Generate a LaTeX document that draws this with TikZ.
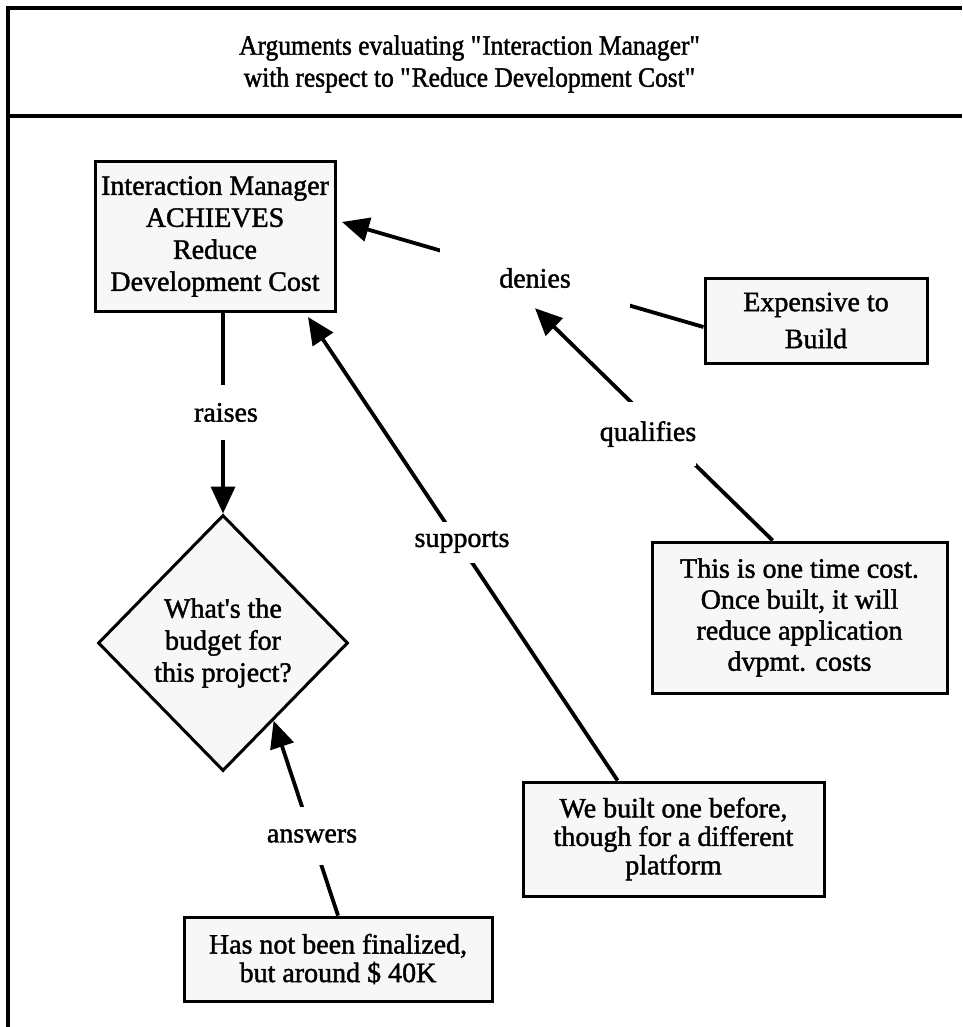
\documentclass[tikz,border=0pt]{standalone}
\usepackage{fontspec}
\setmainfont{Liberation Serif}[FakeBold=1.5]
\newfontfamily\titlefont{Liberation Serif}[FakeBold=1.5,FakeStretch=0.91]
\usetikzlibrary{arrows.meta,shapes.geometric,calc}
\begin{document}
\begin{tikzpicture}[x=1pt,y=-1pt,
  every node/.style={font=\fontsize{28}{32}\selectfont},
  box/.style={draw, line width=3pt, fill=black!3, align=center, inner sep=0pt},
  rel/.style={fill=white, inner sep=0pt},
  conn/.style={line width=3.8pt},
  arr/.style={conn, -{Triangle[length=27pt,width=24pt]}},
  frame/.style={line width=4pt}]
\useasboundingbox (0,0) rectangle (962,1027);
% frame
\draw[frame] (8,1027) -- (8,8) -- (962,8);
\draw[frame] (8,116) -- (962,116);
\node[align=center, font=\titlefont\fontsize{28}{32}\selectfont] (title) at (470,64) {Arguments evaluating \textquotedbl Interaction Manager\textquotedbl\\with respect to \textquotedbl Reduce Development Cost\textquotedbl};
% boxes
\node[box, minimum width=240pt, minimum height=149pt] (im) at (215,236.5) {Interaction Manager\\ACHIEVES\\Reduce\\Development Cost};
\node[draw, diamond, line width=3pt, fill=black!3, minimum width=250pt, minimum height=256pt, inner sep=0pt, align=center] (dia) at (223,643) {What\textquotesingle s the\\budget for\\this project?};
\node[box, minimum width=222pt, minimum height=85pt, font=\fontsize{28}{37}\selectfont] (exp) at (816,320.5) {Expensive to\\Build};
\node[box, minimum width=295pt, minimum height=151pt, font=\fontsize{28}{31}\selectfont] (qual) at (799.5,617.5) {This is one time cost.\\Once built, it will\\reduce application\\dvpmt. costs};
\node[box, minimum width=301pt, minimum height=114pt, font=\fontsize{28}{28.5}\selectfont] (sup) at (673.5,839) {We built one before,\\though for a different\\platform};
\node[box, minimum width=308pt, minimum height=84pt, font=\fontsize{28}{28.5}\selectfont] (ans) at (338,959) {Has not been finalized,\\but around \$ 40K};
% raises
\draw[arr] (im.south -| dia.north) -- (dia.north);
\node[rel, minimum height=55pt] (raises) at (226,412.5) {raises};
% denies
\coordinate (denS) at ($(exp.west)+(0,6.5)$);
\coordinate (denT) at ($(im.east)+(5.5,-14.5)$);
\draw[arr] (denS) -- (denT);
\node[rel, minimum width=190pt, minimum height=60pt] (denies) at (535,278) {denies};
% qualifies
\draw[arr] ($(qual.north west)!0.41!(qual.north east)$) -- (denies.south);
\node[rel, minimum height=64pt] (qualif) at (648,434) {qualifies};
% supports
\coordinate (supT) at ($(im.south east)+(-28.5,4.5)$);
\draw[arr] ($(sup.north west)!0.316!(sup.north east)$) -- (supT);
\node[rel, minimum width=110pt, minimum height=41pt] (supports) at (462,542) {supports};
% answers
\draw[arr] (ans.north) -- ($(dia.east)!0.6!(dia.south)$);
\node[rel, minimum height=58pt] (answers) at (312,836) {answers};
\end{tikzpicture}
\end{document}
